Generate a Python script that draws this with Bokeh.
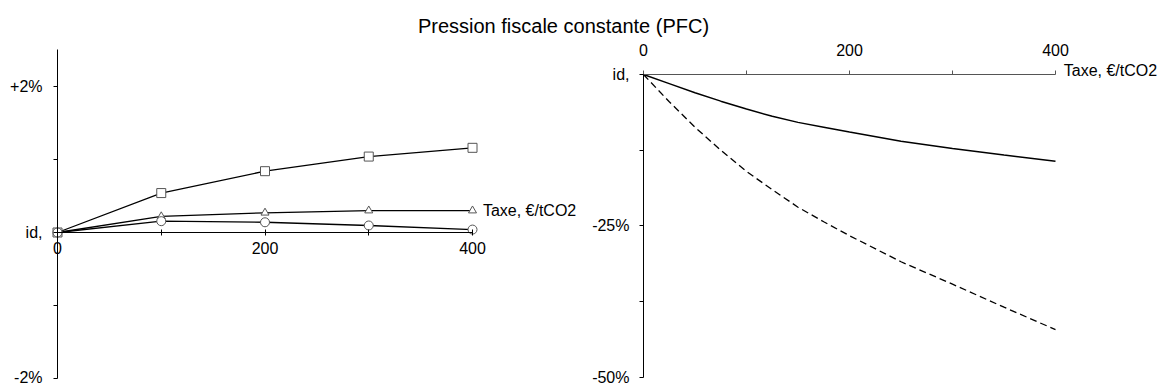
from bokeh.plotting import figure
from bokeh.models import LinearAxis, FixedTicker, Range1d, Label
from bokeh.embed import file_html
from bokeh.resources import INLINE

# ---- data ----
tax_left = [0, 100, 200, 300, 400]
left_square = [0, 0.54, 0.84, 1.04, 1.16]
left_triangle = [0, 0.22, 0.27, 0.30, 0.30]
left_circle = [0, 0.155, 0.14, 0.096, 0.04]

tax_right = [0, 25, 50, 75, 100, 125, 150, 175, 200, 250, 300, 350, 400]
right_solid = [0, -1.5, -3.0, -4.4, -5.7, -6.9, -7.9, -8.7, -9.5, -11.0, -12.2, -13.3, -14.3]
right_dashed = [0, -4.5, -8.7, -12.5, -16.0, -19.0, -21.9, -24.3, -26.6, -30.9, -34.6, -38.4, -42.1]

left_ticks = [-2, -1, 0, 1, 2]
left_tick_labels = {-2: "-2%", -1: "", 0: "id,", 1: "", 2: "+2%"}
right_ticks = [-50, -37.5, -25, -12.5, 0]
right_tick_labels = {-50: "-50%", -37.5: "", -25: "-25%", -12.5: "", 0: "id,"}
x_ticks = [0, 100, 200, 300, 400]
x_tick_labels = {0: "0", 100: "", 200: "200", 300: "", 400: "400"}

title_text = "Pression fiscale constante (PFC)"
x_label = "Taxe, €/tCO2"

FONT = "Liberation Sans"

p = figure(width=1160, height=385,
           x_range=Range1d(-54.94, 1063.13), y_range=Range1d(-2.096, 3.178),
           output_backend="svg", toolbar_location=None,
           x_axis_location=None, y_axis_location=None, min_border=0)
p.outline_line_color = None
p.grid.grid_line_color = None
p.extra_x_ranges = {"rx": Range1d(-624.27, 501.94)}
p.extra_y_ranges = {"ry": Range1d(-51.32, 12.21)}


def style(ax, tick_in, tick_out, standoff):
    ax.axis_line_color = "black"
    ax.axis_line_width = 1
    ax.major_tick_line_color = "black"
    ax.major_tick_in = tick_in
    ax.major_tick_out = tick_out
    ax.minor_tick_line_color = None
    ax.major_label_text_font = FONT
    ax.major_label_text_font_size = "16px"
    ax.major_label_text_color = "black"
    ax.major_label_standoff = standoff


# left panel axes
ly = LinearAxis(fixed_location=0, bounds=(-2, 2.5),
                ticker=FixedTicker(ticks=left_ticks),
                major_label_overrides=left_tick_labels)
style(ly, 0, 4, 11)
p.add_layout(ly, "left")

lx = LinearAxis(fixed_location=0, bounds=(0, 400),
                ticker=FixedTicker(ticks=x_ticks),
                major_label_overrides=x_tick_labels)
style(lx, 3, 3, 7)
p.add_layout(lx, "below")

# right panel axes
ry = LinearAxis(fixed_location=0, bounds=(-50, 0), x_range_name="rx", y_range_name="ry",
                ticker=FixedTicker(ticks=right_ticks),
                major_label_overrides=right_tick_labels)
style(ry, 0, 4, 10)
p.add_layout(ry, "left")

rx = LinearAxis(fixed_location=0, bounds=(0, 400), x_range_name="rx", y_range_name="ry",
                ticker=FixedTicker(ticks=x_ticks),
                major_label_overrides=x_tick_labels)
style(rx, 0, 4, 14)
rx.axis_line_color = "#555555"
rx.major_tick_line_color = "#555555"
p.add_layout(rx, "above")

# left panel series
p.line(tax_left, left_square, line_color="black", line_width=1.3)
p.line(tax_left, left_triangle, line_color="black", line_width=1.3)
p.line(tax_left, left_circle, line_color="black", line_width=1.3)
p.scatter(tax_left, left_square, marker="square", size=9, fill_color="white",
          line_color="#555555", line_width=1)
p.scatter(tax_left, left_triangle, marker="triangle", size=8, fill_color="white",
          line_color="#555555", line_width=1)
p.scatter(tax_left, left_circle, marker="circle", size=9, fill_color="white",
          line_color="#555555", line_width=1)

# right panel series
p.line(tax_right, right_solid, line_color="black", line_width=1.5,
       x_range_name="rx", y_range_name="ry")
p.line(tax_right, right_dashed, line_color="black", line_width=1.3, line_dash="7 4",
       x_range_name="rx", y_range_name="ry")

# texts
p.add_layout(Label(x=563, y=385 - 25, x_units="screen", y_units="screen", text=title_text,
                   text_font=FONT, text_font_size="20px", text_align="center",
                   text_baseline="middle", text_color="black"))
p.add_layout(Label(x=410, y=0.30, text=x_label, text_font=FONT, text_font_size="16px",
                   text_align="left", text_baseline="middle", text_color="black"))
p.add_layout(Label(x=408, y=0, y_offset=4, x_range_name="rx", y_range_name="ry", text=x_label,
                   text_font=FONT, text_font_size="16px", text_align="left",
                   text_baseline="alphabetic", text_color="black"))

open("out.html", "w").write(file_html(p, INLINE))
